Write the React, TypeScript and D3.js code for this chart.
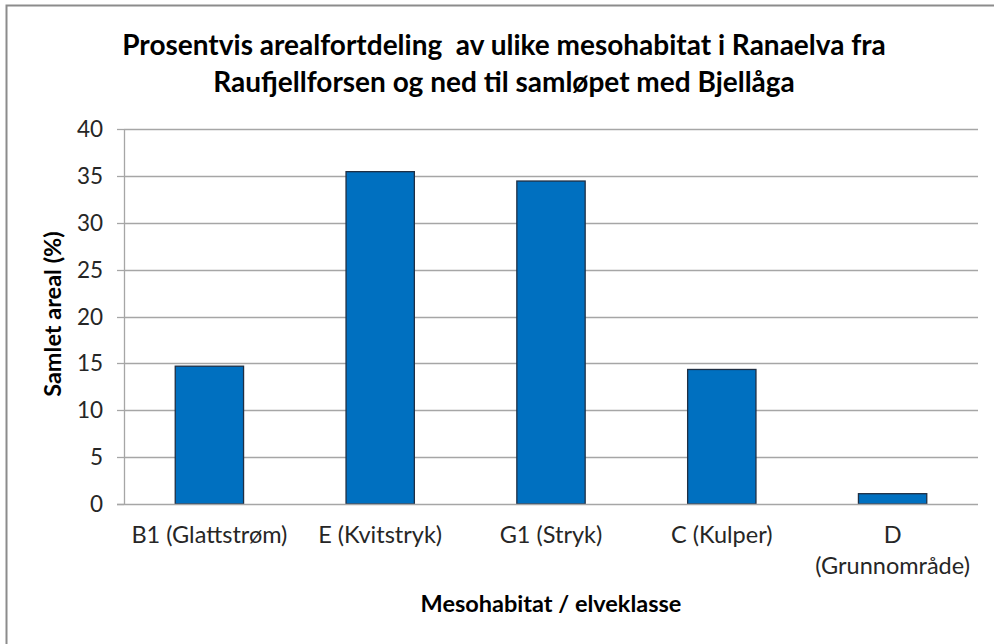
import React, { useRef, useEffect } from 'react';
import * as d3 from 'd3';

const categories = ['B1 (Glattstrøm)', 'E (Kvitstryk)', 'G1 (Stryk)', 'C (Kulper)', 'D (Grunnområde)'];
const categoryLines = [['B1 (Glattstrøm)'], ['E (Kvitstryk)'], ['G1 (Stryk)'], ['C (Kulper)'], ['D', '(Grunnområde)']];
const values = [14.7, 35.45, 34.45, 14.35, 1.1];
const yTicks = [0, 5, 10, 15, 20, 25, 30, 35, 40];
const titleLines = [
  'Prosentvis arealfortdeling  av ulike mesohabitat i Ranaelva fra',
  'Raufjellforsen og ned til samløpet med Bjellåga',
];

const App = () => {
  const svgRef = useRef<SVGSVGElement>(null);
  const width = 994, height = 644;
  const margin = { left: 124, right: 16, top: 129, bottom: 140 };
  const font = 'Lato, Calibri, sans-serif';

  useEffect(() => {
    const svg = d3.select(svgRef.current);
    svg.selectAll('*').remove();

    // outer frame (cropped on right and bottom)
    svg.append('rect')
      .attr('x', 6.5).attr('y', 5.5)
      .attr('width', width + 20).attr('height', height + 20)
      .attr('fill', 'white')
      .attr('stroke', '#8c8c8c')
      .attr('stroke-width', 2);

    const x = d3.scaleBand()
      .domain(categories)
      .range([margin.left, width - margin.right])
      .paddingInner(0.6)
      .paddingOuter(0.3);

    const y = d3.scaleLinear()
      .domain([0, 40])
      .range([height - margin.bottom, margin.top]);

    const g = svg.append('g');

    // gridlines
    g.selectAll('.grid').data(yTicks.filter(d => d > 0)).enter()
      .append('line')
      .attr('x1', margin.left).attr('x2', width - margin.right)
      .attr('y1', d => Math.round(y(d)) + 0.5).attr('y2', d => Math.round(y(d)) + 0.5)
      .attr('stroke', '#a6a6a6').attr('stroke-width', 1.3);

    // ticks + labels
    g.selectAll('.tick').data(yTicks).enter()
      .append('line')
      .attr('x1', margin.left - 7).attr('x2', margin.left)
      .attr('y1', d => Math.round(y(d)) + 0.5).attr('y2', d => Math.round(y(d)) + 0.5)
      .attr('stroke', '#a6a6a6').attr('stroke-width', 1.3);

    g.selectAll('.ylab').data(yTicks).enter()
      .append('text')
      .attr('x', 103).attr('y', d => y(d))
      .attr('dy', '0.36em')
      .attr('text-anchor', 'end')
      .attr('font-family', font).attr('font-size', 22.5)
      .attr('fill', '#262626')
      .text(d => d);

    // bars
    g.selectAll('.bar').data(values).enter()
      .append('rect')
      .attr('x', (d, i) => x(categories[i])!)
      .attr('y', d => y(d))
      .attr('width', x.bandwidth())
      .attr('height', d => y(0) - y(d))
      .attr('fill', '#0070c0')
      .attr('stroke', '#1f2f44')
      .attr('stroke-width', 1.3);

    // axes
    g.append('line')
      .attr('x1', margin.left + 0.5).attr('x2', margin.left + 0.5)
      .attr('y1', y(40)).attr('y2', y(0))
      .attr('stroke', '#a6a6a6').attr('stroke-width', 1.3);
    g.append('line')
      .attr('x1', margin.left - 7).attr('x2', width - margin.right)
      .attr('y1', Math.round(y(0)) + 0.5).attr('y2', Math.round(y(0)) + 0.5)
      .attr('stroke', '#a6a6a6').attr('stroke-width', 1.3);

    // category labels
    categoryLines.forEach((lines, i) => {
      const cx = x(categories[i])! + x.bandwidth() / 2;
      lines.forEach((t, j) => {
        g.append('text')
          .attr('x', cx).attr('y', 543 + j * 31)
          .attr('text-anchor', 'middle')
          .attr('font-family', font).attr('font-size', 23.5)
          .attr('fill', '#262626')
          .text(t);
      });
    });

    // title
    titleLines.forEach((t, i) => {
      svg.append('text')
        .attr('x', 504).attr('y', 55 + i * 37)
        .attr('text-anchor', 'middle')
        .attr('font-family', font).attr('font-size', 28).attr('font-weight', 'bold')
        .attr('fill', '#000')
        .style('white-space', 'pre')
        .text(t);
    });

    // axis titles
    svg.append('text')
      .attr('x', (margin.left + width - margin.right) / 2).attr('y', 612)
      .attr('text-anchor', 'middle')
      .attr('font-family', font).attr('font-size', 23.5).attr('font-weight', 'bold')
      .text('Mesohabitat / elveklasse');

    svg.append('text')
      .attr('transform', 'translate(61,314) rotate(-90)')
      .attr('text-anchor', 'middle')
      .attr('font-family', font).attr('font-size', 23.5).attr('font-weight', 'bold')
      .text('Samlet areal (%)');
  }, []);

  return (
    <svg ref={svgRef} width={width} height={height}
      style={{ position: 'absolute', left: 0, top: 0, display: 'block' }} />
  );
};

export default App;
